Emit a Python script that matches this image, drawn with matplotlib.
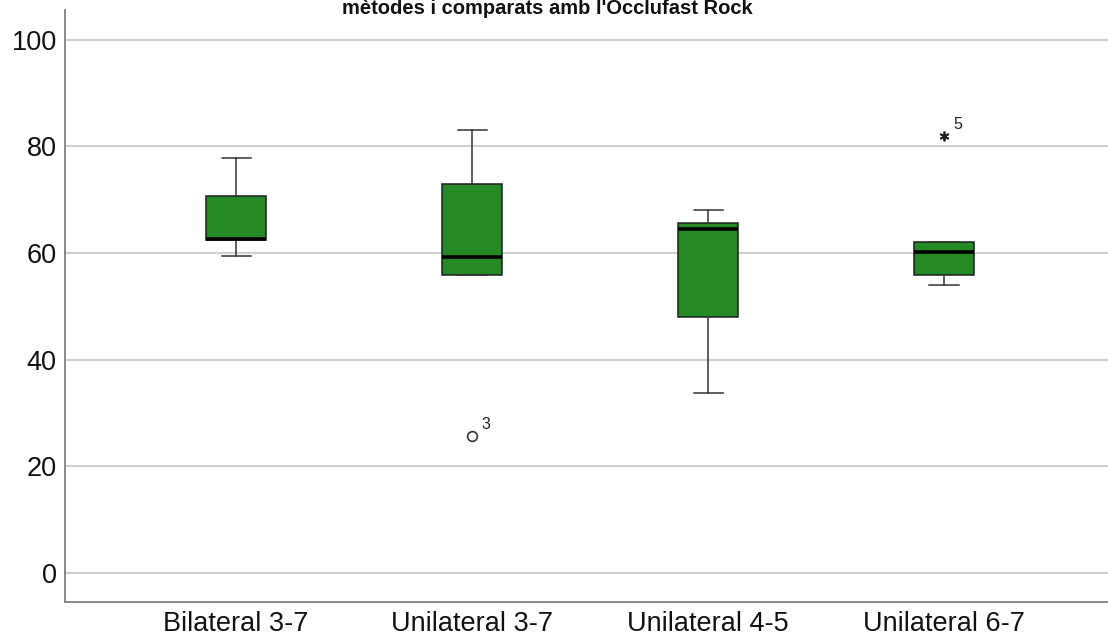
import matplotlib
matplotlib.use("Agg")
import matplotlib.pyplot as plt

plt.rcParams['font.family'] = ['Liberation Sans', 'DejaVu Sans']

# Dades llegides del gràfic
categories = ["Bilateral 3-7", "Unilateral 3-7", "Unilateral 4-5", "Unilateral 6-7"]
whislo = [59.5, 55.8, 33.8, 53.9]
q1 = [62.4, 55.8, 48.0, 55.8]
med = [62.6, 59.3, 64.5, 60.2]
q3 = [70.6, 72.9, 65.7, 62.1]
whishi = [77.9, 83.0, 68.1, 62.1]
outliers = [[], [25.7], [], []]       # cercle
extremes = [[], [], [], [81.9]]       # estrella
outlier_ids = [[], ["3"], [], []]
extreme_ids = [[], [], [], ["5"]]
yticks = [0, 20, 40, 60, 80, 100]

stats = []
for i, name in enumerate(categories):
    stats.append({"label": name, "whislo": whislo[i], "q1": q1[i], "med": med[i],
                  "q3": q3[i], "whishi": whishi[i], "fliers": []})

fig = plt.figure(figsize=(11.08, 6.44), dpi=100)
ax = fig.add_axes([0.0587, 0.0657, 0.9413, 0.9188])

positions = list(range(1, len(categories) + 1))
ax.bxp(stats, positions=positions, widths=0.254, capwidths=0.123,
       patch_artist=True, showfliers=False,
       boxprops=dict(facecolor="#248a24", edgecolor="#1e1e1e", linewidth=1.1),
       medianprops=dict(color="#000000", linewidth=2.6),
       whiskerprops=dict(color="#333333", linewidth=1.1),
       capprops=dict(color="#333333", linewidth=1.1),
       zorder=3)

for i, p in enumerate(positions):
    for v, lab in zip(outliers[i], outlier_ids[i]):
        ax.plot(p, v, marker="o", markersize=7, markerfacecolor="white",
                markeredgecolor="#333333", markeredgewidth=1.2, zorder=4)
        ax.annotate(lab, (p, v), xytext=(7, 5), textcoords="offset points",
                    fontsize=11.5, color="#222222")
    for v, lab in zip(extremes[i], extreme_ids[i]):
        ax.plot(p, v, marker=(6, 2, 0), markersize=7, color="#222222",
                markeredgewidth=1.3, zorder=4)
        ax.annotate(lab, (p, v), xytext=(7, 5), textcoords="offset points",
                    fontsize=11.5, color="#222222")

ax.set_xlim(0.275, 4.695)
ax.set_ylim(-5.44, 105.6)
ax.set_yticks(yticks)
ax.set_xticks(positions)
ax.set_xticklabels(categories)
ax.tick_params(axis="both", length=0, labelsize=19.5, colors="#111111")
ax.tick_params(axis="y", pad=6)
ax.tick_params(axis="x", pad=7)
ax.yaxis.grid(True, color="#cfcfcf", linewidth=1.5, zorder=0)
ax.set_axisbelow(True)
for s in ["top", "right"]:
    ax.spines[s].set_visible(False)
for s in ["left", "bottom"]:
    ax.spines[s].set_color("#808080")
    ax.spines[s].set_linewidth(1.3)

# títol a la part superior
fig.text(547 / 1108, 1 - 14 / 644, "mètodes i comparats amb l'Occlufast Rock",
         ha="center", va="baseline", fontsize=14.5, fontweight="bold", color="#111111")

fig.savefig("out.png", dpi=100)
